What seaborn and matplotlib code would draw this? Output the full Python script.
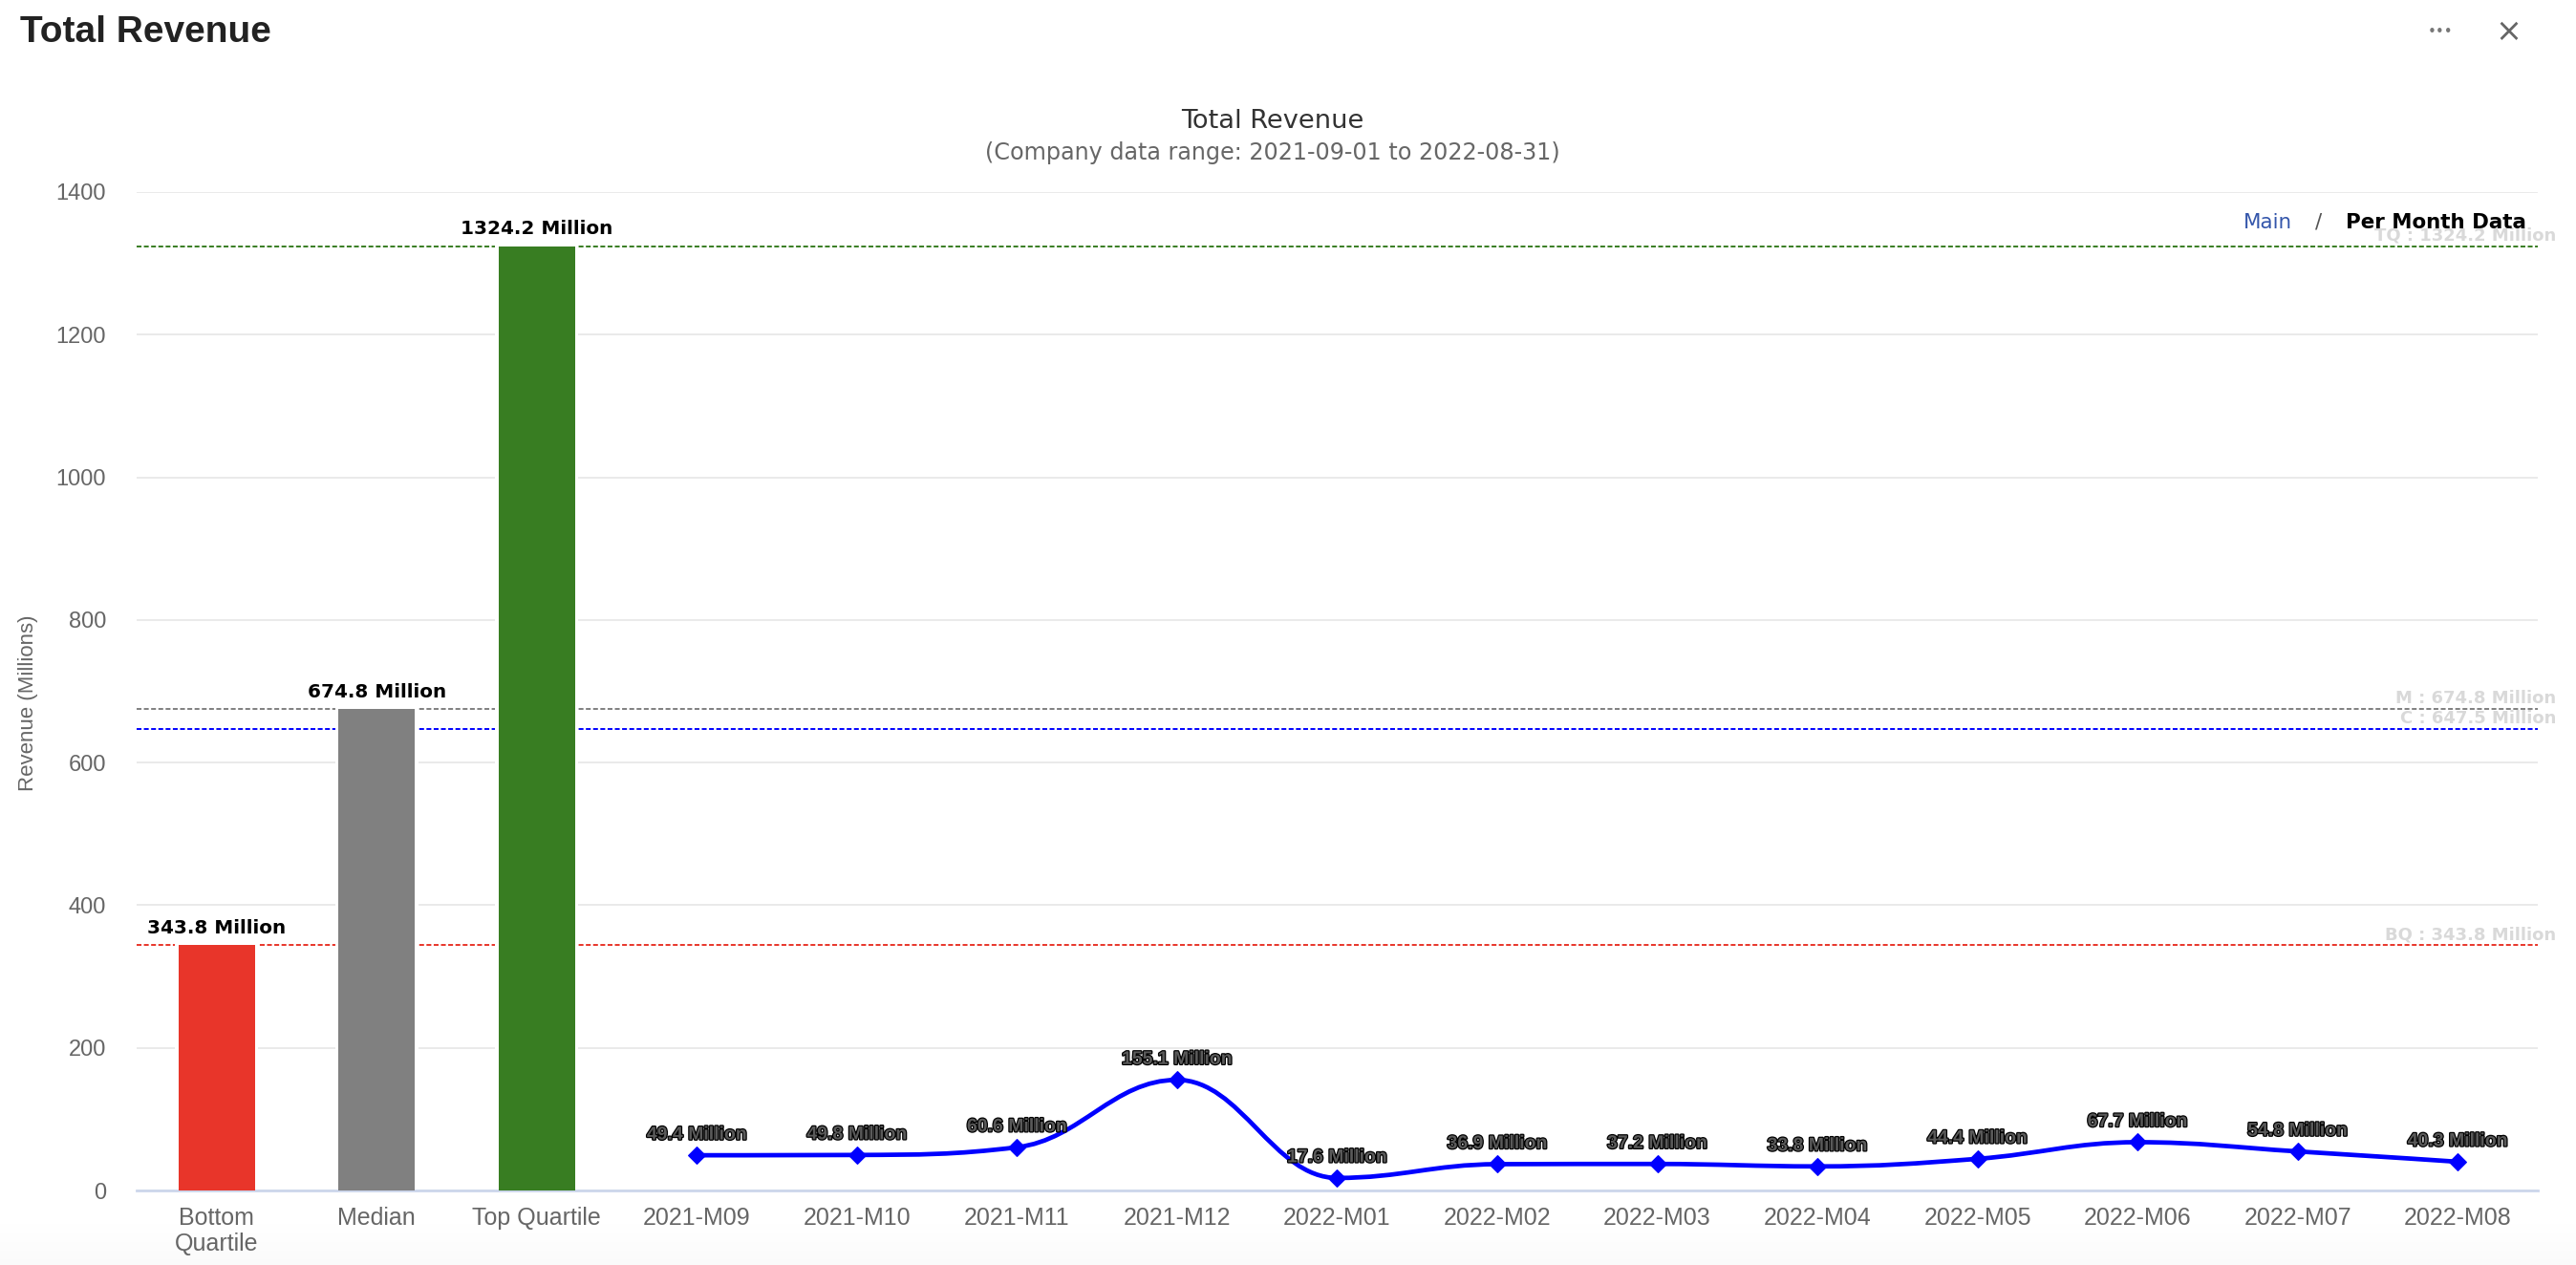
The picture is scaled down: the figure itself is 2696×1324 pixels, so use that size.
import numpy as np
import pandas as pd
import matplotlib
matplotlib.use("Agg")
import matplotlib.pyplot as plt
import matplotlib.transforms as mtransforms
import matplotlib.patheffects as pe
from matplotlib.path import Path
from matplotlib.patches import PathPatch
import seaborn as sns

# benchmark bars
bench_labels = ["Bottom\nQuartile", "Median", "Top Quartile"]
bench_values = [343.8, 674.8, 1324.2]
bench_colors = ["#E8352A", "#808080", "#387D22"]

# company monthly revenue (millions)
months = ["2021-M09", "2021-M10", "2021-M11", "2021-M12", "2022-M01", "2022-M02",
          "2022-M03", "2022-M04", "2022-M05", "2022-M06", "2022-M07", "2022-M08"]
month_values = [49.4, 49.8, 60.6, 155.1, 17.6, 36.9, 37.2, 33.8, 44.4, 67.7, 54.8, 40.3]

# reference lines
ref_names = ["TQ", "M", "C", "BQ"]
ref_values = [1324.2, 674.8, 647.5, 343.8]
ref_colors = ["#387D22", "#808080", "#0000FF", "#E8352A"]

y_ticks = [0, 200, 400, 600, 800, 1000, 1200, 1400]

all_labels = bench_labels + months
month_pos = list(range(len(bench_labels), len(all_labels)))


def spline_path(xs, ys, smoothing=1.5):
    # highcharts-style spline: bezier control points from neighbouring points
    n = len(xs)
    denom = smoothing + 1
    left = [None] * n
    right = [None] * n
    for i in range(n):
        x, y = xs[i], ys[i]
        if 0 < i < n - 1:
            lx, ly = xs[i - 1], ys[i - 1]
            nx, ny = xs[i + 1], ys[i + 1]
            lcx = (smoothing * x + lx) / denom
            lcy = (smoothing * y + ly) / denom
            rcx = (smoothing * x + nx) / denom
            rcy = (smoothing * y + ny) / denom
            if rcx != lcx:
                corr = (rcy - lcy) * (rcx - x) / (rcx - lcx) + y - rcy
                lcy += corr
                rcy += corr
            if lcy > ly and lcy > y:
                lcy = max(ly, y)
                rcy = 2 * y - lcy
            elif lcy < ly and lcy < y:
                lcy = min(ly, y)
                rcy = 2 * y - lcy
            if rcy > ny and rcy > y:
                rcy = max(ny, y)
                lcy = 2 * y - rcy
            elif rcy < ny and rcy < y:
                rcy = min(ny, y)
                lcy = 2 * y - rcy
            left[i] = (lcx, lcy)
            right[i] = (rcx, rcy)
        else:
            left[i] = right[i] = (x, y)
    verts = [(xs[0], ys[0])]
    codes = [Path.MOVETO]
    for i in range(1, n):
        verts += [right[i - 1], left[i], (xs[i], ys[i])]
        codes += [Path.CURVE4] * 3
    return Path(verts, codes)


sns.set_theme(style="white")
DV = "DejaVu Sans"
LS = "Liberation Sans"

fig = plt.figure(figsize=(13.48, 6.62), dpi=200)
fig.patch.set_facecolor("white")

# faint shadow at the bottom of the card
bg = fig.add_axes([0, 0, 1, 0.035], zorder=-1)
grad = np.linspace(0, 1, 100).reshape(-1, 1)
bg.imshow(grad, aspect="auto", cmap="Greys", vmin=0, vmax=25, extent=[0, 1, 0, 1])
bg.set_axis_off()

ax = fig.add_axes([0.05304, 0.0589, 0.9321, 0.7893])
ax.set_facecolor("none")

df_bench = pd.DataFrame({"label": bench_labels, "value": bench_values})

# white backing bars break the grid and dashed lines around each bar
sns.barplot(data=df_bench, x="label", y="value", order=all_labels, color="white",
            width=0.507, saturation=1, errorbar=None, edgecolor="white",
            linewidth=0.72, zorder=2, ax=ax)
sns.barplot(data=df_bench, x="label", y="value", order=all_labels, hue="label",
            palette=dict(zip(bench_labels, bench_colors)), dodge=False, legend=False,
            width=0.477, saturation=1, errorbar=None, linewidth=0, zorder=3, ax=ax)

for i, v in enumerate(bench_values):
    ax.annotate(f"{v} Million", (i, v), xytext=(0, 3), textcoords="offset points",
                ha="center", va="bottom", fontsize=7.2, fontweight="bold",
                family=DV, color="black", zorder=6)

# reference lines
blend = mtransforms.blended_transform_factory(ax.transAxes, ax.transData)
for n, v, c in zip(ref_names, ref_values, ref_colors):
    ax.axhline(v, color=c, lw=0.7, ls=(0, (2.6, 1.3)), zorder=1)
    ax.annotate(f"{n} : {v} Million", (1.0076, v), xycoords=blend, xytext=(0, 2.2),
                textcoords="offset points", ha="right", va="baseline", fontsize=6.5,
                fontweight="bold", family=DV, color="#d9d9d9", annotation_clip=False,
                zorder=1)

# monthly spline
path = spline_path(month_pos, month_values)
ax.add_patch(PathPatch(path, facecolor="none", edgecolor="#0000FF", lw=1.7,
                       zorder=4, capstyle="round", joinstyle="round"))
sns.scatterplot(x=month_pos, y=month_values, marker="D", s=20, color="#0000FF",
                edgecolor="#0000FF", linewidth=0.5, zorder=5, ax=ax, legend=False)

for x, v in zip(month_pos, month_values):
    ax.annotate(f"{v} Million", (x, v), xytext=(0, 4.5), textcoords="offset points",
                ha="center", va="bottom", fontsize=7, fontweight="bold", family=LS,
                color="#5a5a5a", zorder=6,
                path_effects=[pe.withStroke(linewidth=0.9, foreground="black")])

ax.set_xlim(-0.5, len(all_labels) - 0.5)
ax.set_ylim(0, 1400)
ax.set_yticks(y_ticks)
ax.set_xticks(range(len(all_labels)))
ax.set_xticklabels(all_labels)
ax.set_xlabel("")
ax.set_ylabel("")

ax.yaxis.grid(True, color="#e6e6e6", lw=0.6, zorder=0)
ax.xaxis.grid(False)
ax.set_axisbelow(True)
for s in ["top", "right", "left"]:
    ax.spines[s].set_visible(False)
ax.spines["bottom"].set_color("#ccd6eb")
ax.spines["bottom"].set_linewidth(1.0)
ax.spines["bottom"].set_zorder(2.5)

ax.tick_params(axis="y", length=0, pad=11.5, labelsize=8.5, labelcolor="#666666")
ax.tick_params(axis="x", length=0, pad=6, labelsize=9, labelcolor="#666666")
for t in ax.get_xticklabels() + ax.get_yticklabels():
    t.set_family(LS)

# titles and card header
fig.text(0.0078, 0.9743, "Total Revenue", ha="left", va="center", fontsize=14,
         fontweight="bold", family=LS, color="#222222")
fig.text(0.9473, 0.975, "\u2022\u2022\u2022", ha="center", va="center", fontsize=5.5,
         family=DV, color="#777777")
fig.text(0.9737, 0.975, "\u00d7", ha="center", va="center", fontsize=12,
         family=DV, color="#666666")
fig.text(0.494, 0.904, "Total Revenue", ha="center", va="center", fontsize=9.8,
         family=DV, color="#333333")
fig.text(0.494, 0.879, "(Company data range: 2021-09-01 to 2022-08-31)", ha="center",
         va="center", fontsize=8.6, family=DV, color="#666666")
fig.text(0.0108, 0.444, "Revenue (Millions)", ha="center", va="center", rotation=90,
         fontsize=8, family=LS, color="#666666")

# breadcrumb
fig.text(0.9807, 0.8195, "Per Month Data", ha="right", va="baseline", fontsize=7.7,
         fontweight="bold", family=DV, color="black", zorder=7)
fig.text(0.8999, 0.8195, "/", ha="center", va="baseline", fontsize=7.7,
         family=DV, color="#555555")
fig.text(0.8898, 0.8195, "Main", ha="right", va="baseline", fontsize=7.7,
         family=DV, color="#3355AA")

fig.savefig("out.png", dpi=200)
